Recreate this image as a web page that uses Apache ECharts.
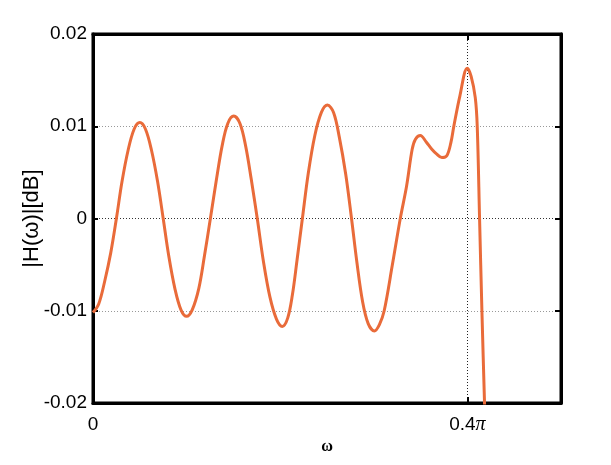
<!DOCTYPE html>
<html>
<head>
<meta charset="utf-8">
<script src="https://cdn.jsdelivr.net/npm/echarts@6/dist/echarts.min.js"></script>
<style>
html,body{margin:0;padding:0;background:#fff;}
#chart{width:611px;height:465px;}
</style>
</head>
<body>
<div id="chart"></div>
<script>
// frequency in units of pi
var omega = [
  0.000, 0.006, 0.0125, 0.019, 0.025, 0.031, 0.0375, 0.044, 0.050, 0.056,
  0.0625, 0.069, 0.075, 0.081, 0.0875, 0.094, 0.100, 0.106, 0.113, 0.119,
  0.1254, 0.132, 0.138, 0.144, 0.1504, 0.157, 0.163, 0.169, 0.1755, 0.182,
  0.189, 0.196, 0.2022, 0.208, 0.213, 0.218, 0.2237, 0.230, 0.237, 0.244,
  0.2505, 0.257, 0.263, 0.270, 0.2762, 0.282, 0.288, 0.294, 0.3006, 0.306,
  0.3111, 0.3197, 0.3283, 0.335, 0.341, 0.3445, 0.3497, 0.356, 0.362, 0.367,
  0.3727, 0.378, 0.3823, 0.3855, 0.392, 0.3998, 0.404, 0.4084, 0.4105, 0.4130,
  0.4155, 0.4183, 0.4192
];
// magnitude response in dB
var magnitude = [
  -0.0102, -0.0093, -0.0068, -0.0037, 0.0000, 0.0040, 0.0074, 0.0097, 0.0104, 0.0097,
  0.0074, 0.0040, 0.0000, -0.0041, -0.0076, -0.0099, -0.0106, -0.0099, -0.0076, -0.0041,
  0.0000, 0.0043, 0.0079, 0.0103, 0.0111, 0.0103, 0.0079, 0.0043, 0.0000, -0.0046,
  -0.0085, -0.0109, -0.0117, -0.0108, -0.0083, -0.0045, 0.0000, 0.0049, 0.0090, 0.0115,
  0.0123, 0.0115, 0.0089, 0.0048, 0.0000, -0.0048, -0.0090, -0.0114, -0.0122, -0.0115,
  -0.0100, -0.0051, 0.0000, 0.0035, 0.0075, 0.0086, 0.0090, 0.0083, 0.0075, 0.0070,
  0.0066, 0.0068, 0.0082, 0.0100, 0.0133, 0.0163, 0.0154, 0.0131, 0.0100, 0.0000,
  -0.0100, -0.0200, -0.0230
];
var xTicks = [0, 0.4];
var xTickLabels = ['0', '0.4{p|\u03c0}'];
var yTicks = ['0.02', '0.01', '0', '-0.01', '-0.02'];

var pts = omega.map(function (w, i) { return [w, magnitude[i]]; });

var chart = echarts.init(document.getElementById('chart'), null, {renderer: 'canvas'});
var font = "'Liberation Sans', Arial, sans-serif";
var serif = "'Liberation Serif', 'Times New Roman', serif";

function xLabel(v) {
  for (var i = 0; i < xTicks.length; i++) {
    if (Math.abs(v - xTicks[i]) < 1e-9) return xTickLabels[i];
  }
  return '';
}

chart.setOption({
  animation: false,
  backgroundColor: '#fff',
  grid: {left: 93, right: 50, top: 34, bottom: 62, show: true, borderColor: '#000', borderWidth: 3, backgroundColor: 'transparent'},
  xAxis: [{
    type: 'value', min: 0, max: 0.5, interval: 0.4, position: 'bottom',
    name: '\u03c9', nameLocation: 'middle', nameGap: 36, nameMoveOverlap: false,
    nameTextStyle: {fontFamily: serif, fontSize: 16, fontWeight: 'bold', color: '#000'},
    axisLine: {show: true, onZero: false, lineStyle: {color: '#000', width: 3}},
    axisTick: {show: true, inside: true, length: 6, lineStyle: {color: '#000', width: 2}},
    axisLabel: {formatter: xLabel, fontFamily: font, fontSize: 19, color: '#000', margin: 12, showMaxLabel: false,
      rich: {p: {fontFamily: serif, fontStyle: 'italic', fontSize: 20, color: '#000'}}},
    splitLine: {show: true, lineStyle: {color: '#222', width: 1, type: [1, 2]}}
  }, {
    type: 'value', min: 0, max: 0.5, interval: 0.4, position: 'top',
    axisLine: {show: true, onZero: false, lineStyle: {color: '#000', width: 3}},
    axisTick: {show: true, inside: true, length: 6, lineStyle: {color: '#000', width: 2}},
    axisLabel: {show: false},
    splitLine: {show: false}
  }],
  yAxis: [{
    type: 'value', min: -0.02, max: 0.02, interval: 0.01, position: 'left',
    name: '|H(\u03c9)|[dB]', nameLocation: 'middle', nameGap: 50, nameRotate: 90, nameMoveOverlap: false,
    nameTextStyle: {fontFamily: font, fontSize: 22, color: '#000'},
    axisLine: {show: true, onZero: false, lineStyle: {color: '#000', width: 3}},
    axisTick: {show: true, inside: true, length: 5, lineStyle: {color: '#000', width: 2}},
    axisLabel: {
      fontFamily: font, fontSize: 19, color: '#000', margin: 6,
      formatter: function (v) {
        var i = Math.round((0.02 - v) / 0.01);
        return yTicks[i] !== undefined ? yTicks[i] : '';
      }
    },
    splitLine: {show: true, lineStyle: {color: ['#999', '#999', '#333', '#999', '#999'], width: 1, type: [1, 2]}}
  }, {
    type: 'value', min: -0.02, max: 0.02, interval: 0.01, position: 'right',
    axisLine: {show: true, onZero: false, lineStyle: {color: '#000', width: 3}},
    axisTick: {show: true, inside: true, length: 6, lineStyle: {color: '#000', width: 2}},
    axisLabel: {show: false},
    splitLine: {show: false}
  }],
  series: [{
    type: 'line',
    data: pts,
    xAxisIndex: 0, yAxisIndex: 0,
    showSymbol: false,
    smooth: 0.35,
    clip: true,
    lineStyle: {color: '#E96B3A', width: 3},
    itemStyle: {color: '#E96B3A'}
  }]
});
</script>
</body>
</html>
